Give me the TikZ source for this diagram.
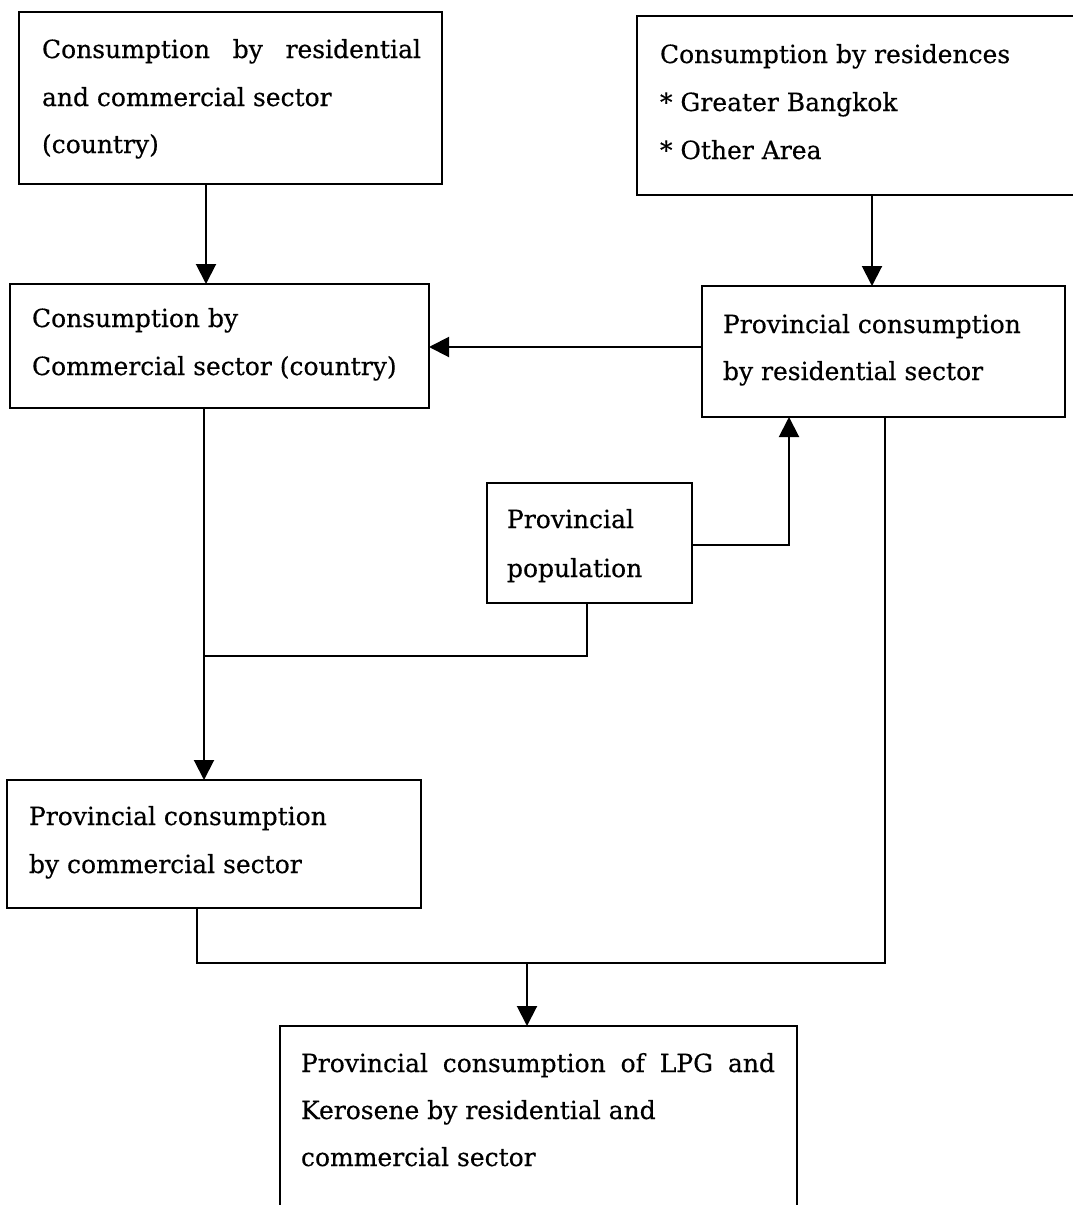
\documentclass[tikz,border=0pt]{standalone}
\usepackage{fontspec}
\setmainfont{DejaVu Serif}[FakeBold=0.4]
\usetikzlibrary{arrows.meta}
\newcommand\mainsz{\fontsize{25pt}{48pt}\selectfont}
\begin{document}
\begin{tikzpicture}[x=1pt,y=-1pt,
  box/.style={draw, line width=2pt, inner sep=0pt, outer sep=0pt, anchor=north west},
  txt/.style={anchor=base west, inner sep=0pt, outer sep=0pt, font=\mainsz},
  arr/.style={-{Triangle[length=20pt,width=20pt]}, line width=2pt},
  ln/.style={line width=2pt}]
\useasboundingbox (0,0) rectangle (1072,1205);
% boxes
\node[box, minimum width=423pt, minimum height=172pt] (b1) at (19,12) {};
\node[box, minimum width=443pt, minimum height=179pt] (b2) at (637,16) {};
\node[box, minimum width=419pt, minimum height=124pt] (b3) at (10,284) {};
\node[box, minimum width=363pt, minimum height=131pt] (b4) at (702,286) {};
\node[box, minimum width=205pt, minimum height=120pt] (b5) at (487,483) {};
\node[box, minimum width=414pt, minimum height=128pt] (b6) at (7,780) {};
\node[box, minimum width=517pt, minimum height=184pt] (b7) at (280,1026) {};
% texts
\node[txt] (t1a) at (42,58) {\makebox[379pt][s]{Consumption by residential}};
\node[txt] (t1b) at (42,106) {and commercial sector};
\node[txt] (t1c) at (42,153) {(country)};
\node[txt] (t2a) at (660,63) {Consumption by residences};
\node[txt] (t2b) at (660,111) {* Greater Bangkok};
\node[txt] (t2c) at (660,159) {* Other Area};
\node[txt] (t3a) at (32,327) {Consumption by};
\node[txt] (t3b) at (32,375) {Commercial sector (country)};
\node[txt] (t4a) at (723,333) {Provincial consumption};
\node[txt] (t4b) at (723,380) {by residential sector};
\node[txt] (t5a) at (507,528) {Provincial};
\node[txt] (t5b) at (507,577) {population};
\node[txt] (t6a) at (29,825) {Provincial consumption};
\node[txt] (t6b) at (29,873) {by commercial sector};
\node[txt] (t7a) at (301,1072) {\makebox[474pt][s]{Provincial consumption of LPG and}};
\node[txt] (t7b) at (301,1119) {Kerosene by residential and};
\node[txt] (t7c) at (301,1166) {commercial sector};
% helper coordinates
\coordinate (cA) at (206,0);
\coordinate (cB) at (872,0);
\coordinate (cH) at (0,347);
\coordinate (cC) at (204,0);
\coordinate (cD) at (587,0);
\coordinate (j1) at (204,656);
\coordinate (cE) at (0,545);
\coordinate (cF) at (789,0);
\coordinate (mR) at (885,963);
\coordinate (mL) at (197,963);
\coordinate (mA) at (527,963);
% connectors
\draw[arr] (b1.south -| cA) -- (b3.north -| cA);
\draw[arr] (b2.south -| cB) -- (b4.north -| cB);
\draw[arr] (b4.west |- cH) -- (b3.east |- cH);
\draw[arr] (b3.south -| cC) -- (b6.north -| cC);
\draw[ln] (b5.south -| cD) |- (j1);
\draw[arr] (b5.east |- cE) -| (b4.south -| cF);
\draw[ln] (b4.south -| mR) -- (mR) -- (mL) -- (b6.south -| mL);
\draw[arr] (mA) -- (b7.north -| mA);
\end{tikzpicture}
\end{document}
